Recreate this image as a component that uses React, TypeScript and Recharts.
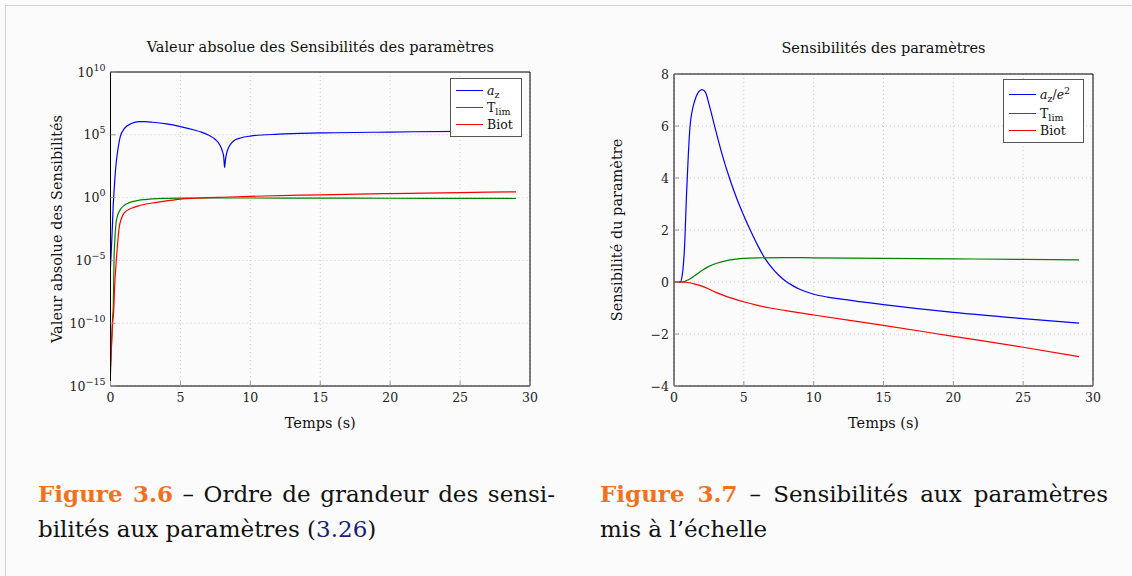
import React from "react";
import { CartesianGrid, Legend, Line, LineChart, XAxis, YAxis } from "recharts";

const SERIF = '"DejaVu Serif", serif';
const BLUE = "#0000ff";
const GREEN = "#008000";
const RED = "#ff0000";
const TICK_GRAY = "#9a9a9a";

const seriesOrder = ["az", "tlim", "biot"];
const timeTicks = [0, 5, 10, 15, 20, 25, 30];
const logTicks = [1e-15, 1e-10, 1e-5, 1, 1e5, 1e10];
const linTicks = [-4, -2, 0, 2, 4, 6, 8];

// Figure 3.6 : valeur absolue (échelle log)
const tAzAbs = [0, 0.1, 0.2, 0.25, 0.3, 0.4, 0.5, 0.7, 1, 1.5, 2, 2.5, 3, 4, 5, 6, 6.5, 7, 7.5, 7.8, 8, 8.1, 8.16, 8.22, 8.3, 8.5, 8.8, 9.3, 10, 12, 15, 20, 25, 29];
const azAbs = [3.2e-6, 6.3e-4, 0.32, 2.8, 20, 500, 4000, 7.1e4, 3.2e5, 7.9e5, 1.12e6, 1.1e6, 1.0e6, 7.4e5, 4.5e5, 2.4e5, 1.65e5, 9.5e4, 4.2e4, 1.7e4, 5.0e3, 1.6e3, 250, 1.0e3, 3.2e3, 1.26e4, 3.2e4, 5.6e4, 7.9e4, 1.12e5, 1.4e5, 1.66e5, 1.9e5, 2.1e5];

const tTlimAbs = [0, 0.15, 0.2, 0.25, 0.3, 0.4, 0.5, 0.7, 1, 1.3, 2, 2.5, 3, 4, 5, 7, 10, 15, 20, 25, 29];
const tlimAbs = [3.2e-14, 2.5e-10, 2.5e-9, 1e-5, 2.5e-4, 0.01, 0.035, 0.11, 0.25, 0.38, 0.6, 0.7, 0.79, 0.87, 0.91, 0.93, 0.93, 0.91, 0.89, 0.87, 0.85];

const tBiotAbs = [0, 0.15, 0.22, 0.3, 0.4, 0.5, 0.6, 0.8, 1, 1.5, 2, 3, 4, 5, 6, 7, 8, 10, 15, 20, 25, 29];
const biotAbs = [1e-14, 1e-10, 6.3e-10, 1e-7, 6.3e-6, 1.6e-4, 2.8e-3, 0.025, 0.063, 0.14, 0.22, 0.37, 0.54, 0.76, 0.89, 1.0, 1.07, 1.26, 1.66, 2.09, 2.5, 2.88];

// Figure 3.7 : sensibilités mises à l'échelle
const tAz = [0, 0.45, 0.6, 0.75, 0.9, 1, 1.15, 1.5, 1.75, 2, 2.25, 2.5, 3, 3.5, 4, 4.5, 5, 5.5, 6, 6.5, 7, 7.5, 8, 8.5, 9, 10, 11, 12, 15, 20, 25, 29];
const az = [0, 0, 0.3, 1.3, 3.4, 4.6, 6.0, 7.0, 7.3, 7.4, 7.3, 6.85, 5.8, 4.8, 3.95, 3.2, 2.55, 1.95, 1.4, 0.92, 0.55, 0.26, 0.03, -0.14, -0.28, -0.47, -0.58, -0.66, -0.87, -1.17, -1.41, -1.58];

const tTlim = [0, 0.5, 0.75, 1, 1.5, 2, 2.5, 3, 4, 5, 6, 8, 10, 15, 20, 25, 29];
const tlim = [0, 0, 0.02, 0.08, 0.25, 0.44, 0.6, 0.71, 0.85, 0.91, 0.93, 0.94, 0.93, 0.91, 0.89, 0.87, 0.85];

const tBiot = [0, 0.5, 1, 1.5, 2, 2.5, 3, 4, 5, 6, 7, 8, 10, 15, 20, 25, 29];
const biot = [0, 0, -0.02, -0.08, -0.16, -0.27, -0.4, -0.6, -0.76, -0.9, -1.01, -1.1, -1.27, -1.67, -2.09, -2.51, -2.87];

const zip = (t: number[], v: number[]) => t.map((x, i) => ({ t: x, v: v[i] }));
const minus = (s: string) => s.replace("-", "\u2212");

const sub = (s: string) => (
  <span style={{ fontSize: 9.5, position: "relative", top: 3 }}>{s}</span>
);

const leftLabels: Record<string, React.ReactNode> = {
  az: (
    <>
      <i>a</i>
      {sub("z")}
    </>
  ),
  tlim: <>T{sub("lim")}</>,
  biot: <>Biot</>,
};

const rightLabels: Record<string, React.ReactNode> = {
  az: (
    <>
      <i>a</i>
      {sub("z")}/<i>e</i>
      <span style={{ fontSize: 9.5, position: "relative", top: -5 }}>2</span>
    </>
  ),
  tlim: <>T{sub("lim")}</>,
  biot: <>Biot</>,
};

const LegendBox = ({ payload, labels, width, rowH }: any) => {
  const items = [...(payload || [])].sort(
    (a: any, b: any) => seriesOrder.indexOf(a.value) - seriesOrder.indexOf(b.value)
  );
  return (
    <div
      style={{
        width,
        boxSizing: "border-box",
        border: "1px solid #555",
        background: "#fff",
        padding: "3px 4px 3px 5px",
        fontFamily: SERIF,
        fontSize: 12.5,
        color: "#111",
      }}
    >
      {items.map((p: any, i: number) => (
        <div
          key={p.value}
          style={{ display: "flex", alignItems: "center", height: rowH[i], whiteSpace: "nowrap" }}
        >
          <span
            style={{
              display: "inline-block",
              width: 27,
              borderTop: `1.2px solid ${p.color}`,
              marginRight: 4,
            }}
          />
          <span>{labels[p.value]}</span>
        </div>
      ))}
    </div>
  );
};

const BottomTick = ({ x, y, payload }: any) => (
  <g>
    <line x1={x} x2={x} y1={y - 4} y2={y - 9} stroke={TICK_GRAY} />
    <text x={x} y={y} dy={12} textAnchor="middle" fontSize={12.5} fill="#222" fontFamily={SERIF}>
      {payload.value}
    </text>
  </g>
);

const LogTick = ({ x, y, payload }: any) => {
  const e = Math.round(Math.log10(payload.value));
  return (
    <g>
      <line x1={x + 5} x2={x + 10} y1={y} y2={y} stroke={TICK_GRAY} />
      <text x={x} y={y} dy={4.5} textAnchor="end" fontSize={12.5} fill="#222" fontFamily={SERIF}>
        <tspan>10</tspan>
        <tspan dy={-6} fontSize={9.5}>
          {minus(String(e))}
        </tspan>
      </text>
    </g>
  );
};

const LinTick = ({ x, y, payload }: any) => (
  <g>
    <line x1={x + 5} x2={x + 10} y1={y} y2={y} stroke={TICK_GRAY} />
    <text x={x} y={y} dy={4.5} textAnchor="end" fontSize={12.5} fill="#222" fontFamily={SERIF}>
      {minus(String(payload.value))}
    </text>
  </g>
);

const axisLabelStyle = { fontFamily: SERIF, fontSize: 14.5, fill: "#111" };

const titleStyle = (left: number, width: number, top: number): React.CSSProperties => ({
  position: "absolute",
  left,
  width,
  top,
  textAlign: "center",
  fontFamily: SERIF,
  fontSize: 14.5,
  lineHeight: "20px",
  color: "#111",
});

const captionStyle = (left: number, width: number): React.CSSProperties => ({
  position: "absolute",
  left,
  top: 476,
  width,
  fontFamily: SERIF,
  fontSize: 23,
  lineHeight: "35px",
  color: "#111",
});

const justified: React.CSSProperties = { textAlign: "justify", textAlignLast: "justify", whiteSpace: "nowrap" };

export default function App() {
  const seriesLeft = [
    { key: "az", data: zip(tAzAbs, azAbs), color: BLUE },
    { key: "tlim", data: zip(tTlimAbs, tlimAbs), color: GREEN },
    { key: "biot", data: zip(tBiotAbs, biotAbs), color: RED },
  ];
  const seriesRight = [
    { key: "az", data: zip(tAz, az), color: BLUE },
    { key: "tlim", data: zip(tTlim, tlim), color: GREEN },
    { key: "biot", data: zip(tBiot, biot), color: RED },
  ];

  return (
    <div
      style={{
        position: "absolute",
        left: 0,
        top: 0,
        width: 1132,
        height: 576,
        background: "#fbfbfb",
        overflow: "hidden",
        fontFamily: SERIF,
      }}
    >
      <div
        style={{
          position: "absolute",
          left: 5,
          top: 5,
          width: 1200,
          height: 700,
          border: "1.5px solid #d2d2d2",
        }}
      />

      <div style={titleStyle(110.5, 419.5, 37)}>Valeur absolue des Sensibilités des paramètres</div>
      <div style={titleStyle(674, 419, 38)}>Sensibilités des paramètres</div>

      {/* Figure 3.6 */}
      <div style={{ position: "absolute", left: 0, top: 0 }}>
        <LineChart width={560} height={440} margin={{ top: 72, right: 30, bottom: 0, left: 4 }}>
          <CartesianGrid stroke="#c8c8c8" strokeDasharray="1 3" />
          <XAxis
            type="number"
            dataKey="t"
            domain={[0, 30]}
            ticks={timeTicks}
            allowDataOverflow
            height={54}
            tickSize={0}
            tickMargin={4}
            tickLine={false}
            axisLine={{ stroke: "#000" }}
            tick={<BottomTick />}
            label={{ value: "Temps (s)", position: "insideBottom", offset: 12, style: axisLabelStyle }}
          />
          <XAxis
            xAxisId="top"
            type="number"
            orientation="top"
            mirror
            domain={[0, 30]}
            ticks={timeTicks}
            allowDataOverflow
            tick={false}
            tickSize={5}
            tickLine={{ stroke: TICK_GRAY }}
            axisLine={{ stroke: "#000" }}
          />
          <YAxis
            type="number"
            scale="log"
            domain={[1e-15, 1e10]}
            ticks={logTicks}
            allowDataOverflow
            width={106.5}
            tickSize={0}
            tickMargin={5}
            tickLine={false}
            axisLine={{ stroke: "#000" }}
            tick={<LogTick />}
            label={{ value: "Valeur absolue des Sensibilités", angle: -90, position: "center", style: axisLabelStyle }}
          />
          <YAxis
            yAxisId="right"
            type="number"
            orientation="right"
            mirror
            scale="log"
            domain={[1e-15, 1e10]}
            ticks={logTicks}
            allowDataOverflow
            tick={false}
            tickSize={5}
            tickLine={{ stroke: TICK_GRAY }}
            axisLine={{ stroke: "#000" }}
          />
          {seriesLeft.map((s) => (
            <Line
              key={s.key}
              data={s.data}
              dataKey="v"
              name={s.key}
              type="monotone"
              stroke={s.color}
              strokeWidth={1.2}
              dot={false}
              activeDot={false}
              isAnimationActive={false}
            />
          ))}
          <Legend
            layout="vertical"
            align="center"
            verticalAlign="middle"
            wrapperStyle={{ left: 450, top: 78, width: 72 }}
            content={(props: any) => (
              <LegendBox payload={props.payload} labels={leftLabels} width={72} rowH={[17, 17, 17]} />
            )}
          />
        </LineChart>
      </div>

      {/* Figure 3.7 */}
      <div style={{ position: "absolute", left: 560, top: 0 }}>
        <LineChart width={563} height={440} margin={{ top: 74, right: 30, bottom: 0, left: 0 }}>
          <CartesianGrid stroke="#c8c8c8" strokeDasharray="1 3" />
          <XAxis
            type="number"
            dataKey="t"
            domain={[0, 30]}
            ticks={timeTicks}
            allowDataOverflow
            height={54}
            tickSize={0}
            tickMargin={4}
            tickLine={false}
            axisLine={{ stroke: "#000" }}
            tick={<BottomTick />}
            label={{ value: "Temps (s)", position: "insideBottom", offset: 12, style: axisLabelStyle }}
          />
          <XAxis
            xAxisId="top"
            type="number"
            orientation="top"
            mirror
            domain={[0, 30]}
            ticks={timeTicks}
            allowDataOverflow
            tick={false}
            tickSize={5}
            tickLine={{ stroke: TICK_GRAY }}
            axisLine={{ stroke: "#000" }}
          />
          <YAxis
            type="number"
            domain={[-4, 8]}
            ticks={linTicks}
            allowDataOverflow
            width={114}
            tickSize={0}
            tickMargin={5}
            tickLine={false}
            axisLine={{ stroke: "#000" }}
            tick={<LinTick />}
            label={{ value: "Sensibilité du paramètre", angle: -90, position: "center", style: axisLabelStyle }}
          />
          <YAxis
            yAxisId="right"
            type="number"
            orientation="right"
            mirror
            domain={[-4, 8]}
            ticks={linTicks}
            allowDataOverflow
            tick={false}
            tickSize={5}
            tickLine={{ stroke: TICK_GRAY }}
            axisLine={{ stroke: "#000" }}
          />
          {seriesRight.map((s) => (
            <Line
              key={s.key}
              data={s.data}
              dataKey="v"
              name={s.key}
              type="monotone"
              stroke={s.color}
              strokeWidth={1.2}
              dot={false}
              activeDot={false}
              isAnimationActive={false}
            />
          ))}
          <Legend
            layout="vertical"
            align="center"
            verticalAlign="middle"
            wrapperStyle={{ left: 443, top: 79, width: 81 }}
            content={(props: any) => (
              <LegendBox payload={props.payload} labels={rightLabels} width={81} rowH={[22, 17, 17]} />
            )}
          />
        </LineChart>
      </div>

      {/* Légendes des figures */}
      <div style={captionStyle(38, 517)}>
        <div style={justified}>
          <b style={{ color: "#f2711c" }}>Figure 3.6</b> – Ordre de grandeur des sensi-
        </div>
        <div>
          bilités aux paramètres (<span style={{ color: "#1b1b7a" }}>3.26</span>)
        </div>
      </div>
      <div style={captionStyle(600, 508)}>
        <div style={justified}>
          <b style={{ color: "#f2711c" }}>Figure 3.7</b> – Sensibilités aux paramètres
        </div>
        <div>mis à l’échelle</div>
      </div>
    </div>
  );
}
